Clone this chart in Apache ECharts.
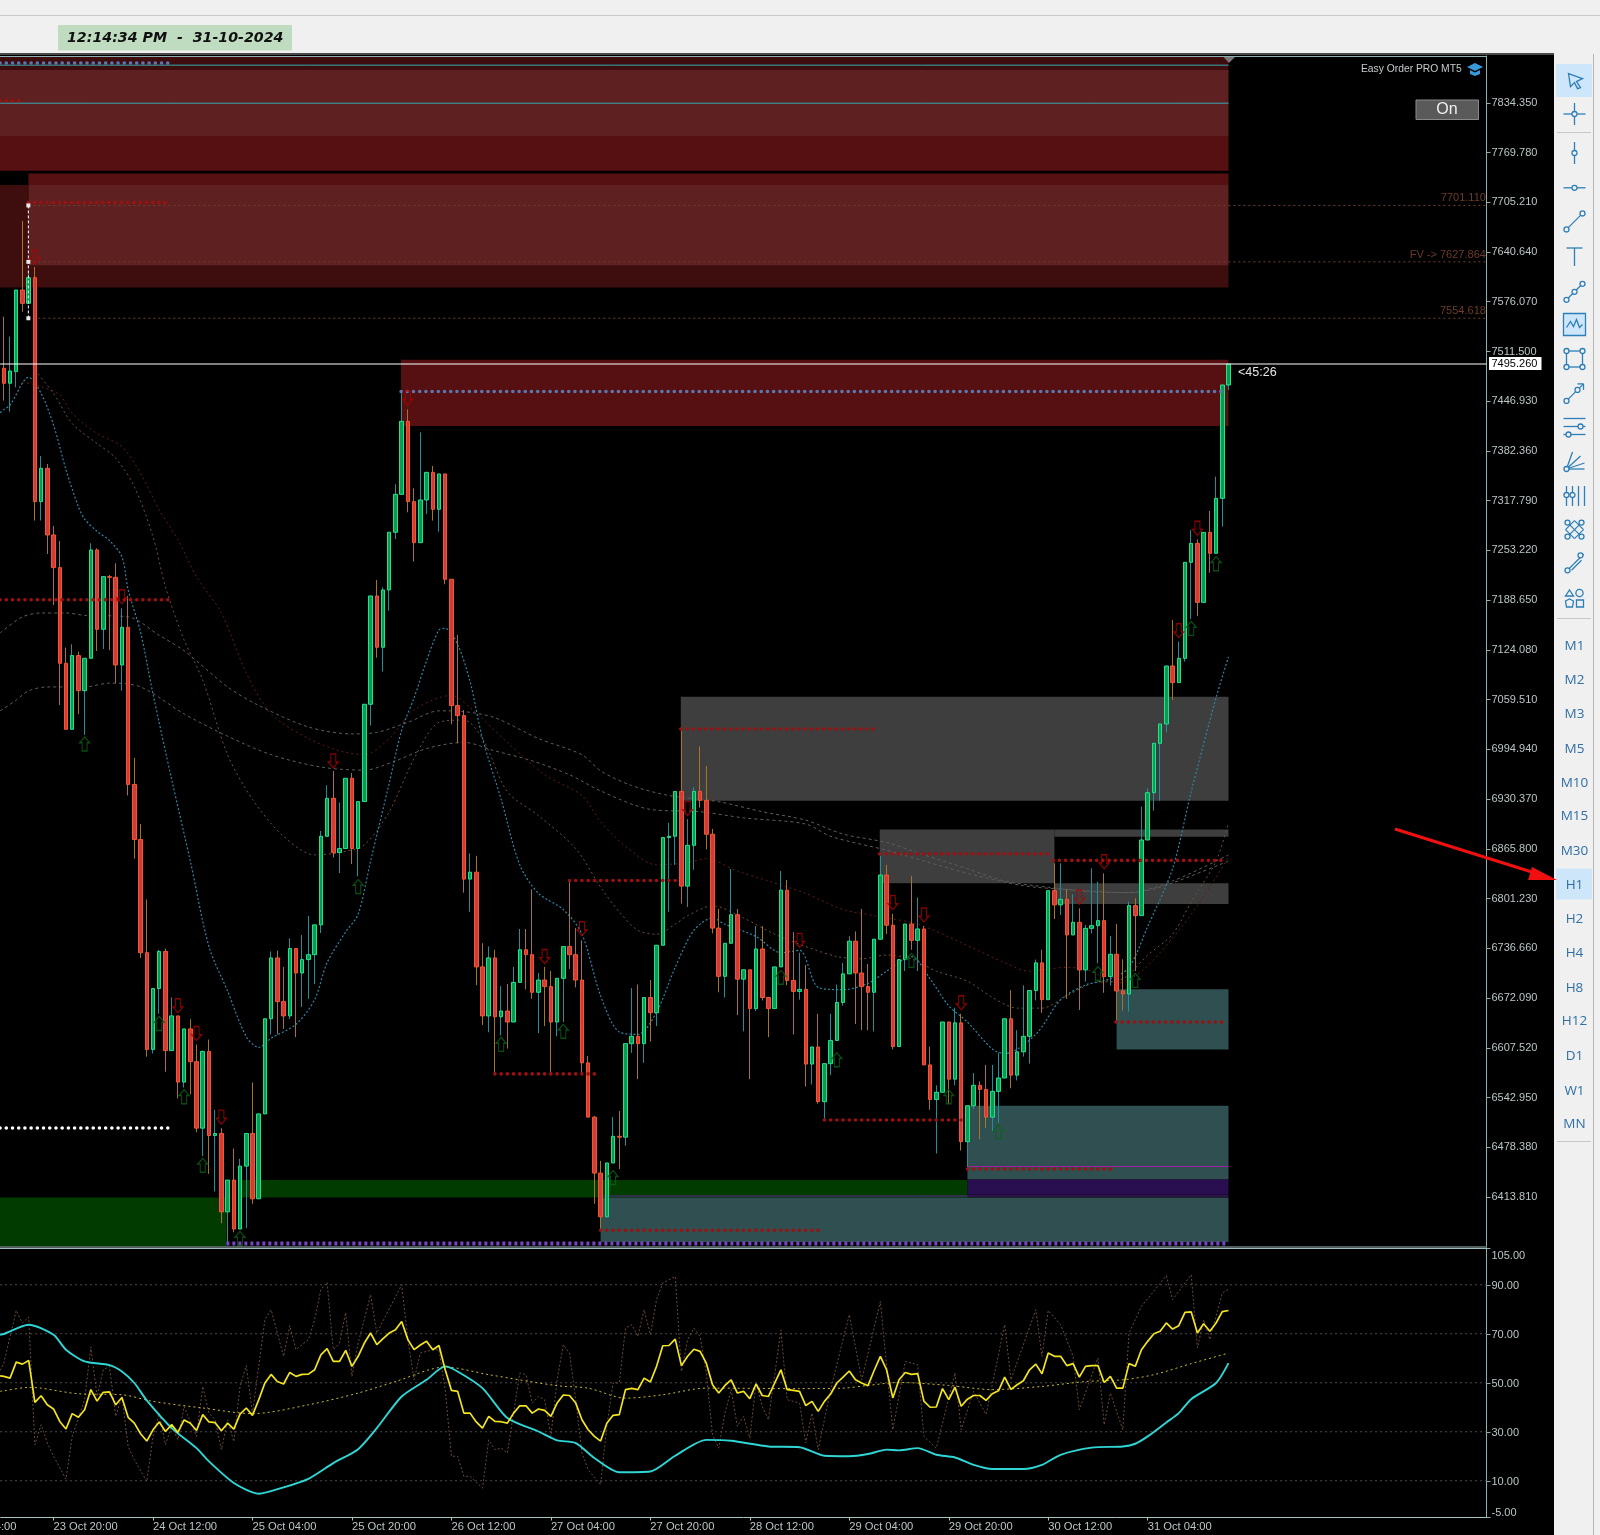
<!DOCTYPE html>
<html><head><meta charset="utf-8">
<style>html,body{margin:0;padding:0;background:#f0f0f0;overflow:hidden}#c{width:1600px;height:1535px}</style>
<script src="https://cdn.jsdelivr.net/npm/echarts@6/dist/echarts.min.js"></script></head>
<body><div id="c"></div>
<script>
// ---------- candles (H1 bars) ----------
const opens=[7489.7,7470.2,7485.3,7591.3,7574,7607.3,7316.6,7359.8,7273.3,7230.9,7106.7,7021,7116.7,7071.2,7113.2,7253.8,7150.8,7219.2,7218.3,7104.5,
7153.4,6949.4,6877.9,6731,6605.4,6684.4,6732.6,6603.9,6648.9,6563,6632,6589.5,6503.2,6602.8,6493.6,6496.3,6394.5,6435.8,6372.2,6453.9,
6496.3,6411.5,6521.7,6645.2,6724.2,6667.5,6648.9,6736.4,6704.6,6722,6728.4,6767.1,6882.1,6931.4,6860.9,6866.2,6957.4,6866.2,6927.2,7053.5,
7194.1,7127.5,7201.9,7276.8,7326,7420.8,7316.6,7263.3,7318.7,7354.6,7306.6,7352.5,7215.8,7051.8,7038.8,6826.5,6835.5,6712.5,6648.9,6724.2,
6647.8,6655.3,6641,6692.4,6734.8,6728.4,6679.6,6695.5,6687,6641,6697.7,6739,6728.4,6695.5,6588,6517.5,6444.9,6388.1,6458,6492.6,
6491.5,6612.9,6622.4,6612.9,6672.8,6653.1,6740.6,6880.5,6882.1,6940.4,6817.4,6870.4,6940.4,6928.7,6884.8,6762.9,6700.3,6743.2,6780.3,6696.6,
6708.8,6658.4,6735.8,6672.8,6658.4,6712.5,6812.1,6695,6680.7,6683.4,6586.4,6608.6,6537.6,6586.9,6617.1,6666.4,6703.5,6745.9,6704.6,6687,
6679.6,6748.5,6831.8,6766.6,6609.2,6722,6768.2,6747,6761.8,6585.3,6540.3,6549.8,6641,6566.8,6639.9,6485.7,6532.3,6558.8,6553.5,6517.5,
6550.9,6568.3,6645.2,6572,6602.3,6622.4,6681.8,6717.8,6670,6811.5,6793,6800.3,6754,6770.4,6708.6,6762.6,6766.1,6772.6,6699.9,6728.9,
6681.3,6677.4,6792.1,6779.1,6877.3,6938.7,7002.8,7027.9,7103.2,7081.6,7113.1,7237.8,7262.4,7185.8,7276.7,7249.5,7320.8,7468];
const closes=[7470.2,7486.2,7591.3,7574,7607.3,7316.6,7359.8,7273.3,7230.9,7106.7,7021,7116.7,7071.2,7113.2,7253.8,7150.8,7219.2,7218.3,7104.5,7153.4,
6949.4,6877.9,6731,6605.4,6684.4,6732.6,6603.9,6648.9,6563,6632,6589.5,6503.2,6602.8,6493.6,6496.3,6394.5,6435.8,6372.2,6453.9,6496.3,
6411.5,6521.7,6645.2,6724.2,6667.5,6648.9,6736.4,6704.6,6722,6728.4,6767.1,6882.1,6931.4,6860.9,6866.2,6957.4,6866.2,6927.2,7053.5,7194.1,
7127.5,7201.9,7276.8,7326,7420.8,7316.6,7263.3,7318.7,7354.6,7306.6,7352.5,7215.8,7051.8,7038.8,6826.5,6835.5,6712.5,6648.9,6724.2,6647.8,
6655.3,6641,6692.4,6734.8,6728.4,6679.6,6695.5,6687,6641,6697.7,6739,6728.4,6695.5,6588,6517.5,6444.9,6388.1,6458,6492.6,6491.5,
6612.9,6622.4,6612.9,6672.8,6653.1,6740.6,6880.5,6882.1,6940.4,6817.4,6870.4,6940.4,6928.7,6884.8,6762.9,6700.3,6743.2,6780.3,6696.6,6708.8,
6658.4,6735.8,6672.8,6658.4,6712.5,6812.1,6695,6680.7,6683.4,6586.4,6608.6,6537.6,6586.9,6617.1,6666.4,6703.5,6745.9,6704.6,6687,6679.6,
6748.5,6831.8,6766.6,6609.2,6722,6768.2,6747,6761.8,6585.3,6540.3,6549.8,6641,6566.8,6639.9,6485.7,6532.3,6558.8,6553.5,6517.5,6550.9,
6568.3,6645.2,6572,6602.3,6622.4,6681.8,6717.8,6670,6811.5,6793,6800.3,6754,6770.4,6708.6,6762.6,6766.1,6772.6,6699.9,6728.9,6681.3,
6677.4,6792.1,6779.1,6877.3,6938.7,7002.8,7027.9,7103.2,7081.6,7113.1,7237.8,7262.4,7185.8,7276.7,7249.5,7320.8,7468,7495.26];
const highs=[7556.7,7530.8,7591.3,7680.9,7613,7621.2,7375.9,7365.5,7285,7265.5,7127,7131.4,7121.9,7113.2,7262.5,7256,7219.2,7221.4,7236.5,7178.1,
7194,6983.9,6898,6800,6684.4,6734.8,6736.4,6672.8,6648.9,6632,6644.7,6611.8,6603.9,6618.2,6527,6503.2,6435.8,6476.7,6463.4,6496.3,
6562.5,6521.7,6645.2,6732.6,6733.7,6712.5,6749.6,6736.4,6753.8,6778.8,6767.1,6889,6948.4,6966.9,6926,6957.4,6964.3,6927.2,7053.5,7194.1,
7214.9,7205.4,7276.8,7339,7459.4,7436.4,7333.9,7406.6,7354.6,7362.9,7352.5,7352.5,7215.8,7143.5,7046,6859.8,6856.7,6743.2,6739,6734.8,
6687.6,6690.2,6712.5,6761.8,6761.8,6813.2,6704.6,6712.5,6707.2,6697.7,6739,6823.8,6762.9,6747,6597,6519,6460.8,6458,6517.5,6525.4,
6612.9,6685,6689.7,6672.8,6695.5,6740.6,6880.5,6899.6,6940.4,7018.8,6904.4,6945.7,6998.7,6973.3,6891.6,6787.8,6743.2,6839.7,6787.8,6708.8,
6708.8,6765.5,6765.5,6672.8,6712.5,6837,6825.4,6757.6,6731,6715,6608.6,6651.6,6586.9,6651.6,6689.7,6717.8,6752.3,6758.6,6787.8,6716.2,
6748.5,6856.7,6845,6781.4,6722,6768.2,6830.7,6802.6,6765.5,6609.2,6558.8,6641,6641,6659.5,6651.6,6532.3,6574.7,6564,6585.3,6585.3,
6601.2,6645.2,6682.3,6630.4,6688.7,6681.8,6722,6734.8,6811.5,6847,6847,6813.3,6806.8,6788.6,6767,6840.5,6823.2,6834,6752.7,6768.3,
6722.4,6797.2,6801.6,6920.6,6944.4,7002.8,7027.9,7103.2,7162.9,7134.8,7237.8,7279.7,7267.6,7276.7,7304.4,7349,7468,7495.26];
const lows=[7447.7,7433.4,7465,7563.2,7574,7292,7292,7248.6,7182.4,7052.6,7021,7021,7041,7013.7,7113.2,7122.7,7125.3,7124,7080.8,7071.2,
6935.1,6853,6724.2,6596,6600.1,6651.6,6576.3,6603.9,6541.8,6556,6547,6497.9,6467.1,6443.8,6421,6379.7,6352,6368,6372.2,6373.3,
6405,6411.5,6521.7,6625,6625,6632,6644.7,6621.3,6660.6,6671.2,6690.2,6756.5,6882.1,6854.5,6834.4,6866.2,6846,6830.2,6927.2,7025.8,
7114,7095.9,7175,7268,7326,7302.7,7238.7,7263.3,7300.6,7291.9,7277.6,7209.3,7027.5,7002.9,6809,6784,6688.7,6637.2,6627.7,6572,
6623.5,6606.5,6641,6692.4,6683.4,6671.2,6626.6,6635.7,6572,6622.4,6641,6709.9,6686,6574.7,6517.5,6405,6370.6,6388.1,6458,6450.2,
6480.4,6601,6566.8,6588,6615.5,6635.7,6740.6,6784,6845,6794.7,6790.4,6838.6,6919.2,6865.1,6756,6679.6,6672.8,6743.2,6650,6628.8,
6566.8,6655.3,6669,6621.3,6658.4,6712.5,6688.7,6625,6670,6557.2,6559.9,6535,6515.3,6572,6617.1,6662.2,6703.5,6638.3,6630.4,6630.4,
6628.8,6748.5,6755,6605.4,6609.2,6707.2,6734.8,6707.2,6585.3,6527,6470.3,6549.8,6535,6558.8,6474,6452.8,6528,6488.8,6503,6499.4,
6510,6568.3,6555,6565.2,6596,6586.9,6669,6653,6670,6774.7,6780,6670.9,6754,6656.6,6693.4,6756.1,6717.2,6679,6688.2,6642.8,
6655.8,6654.5,6707.2,6779.1,6877.3,6915.4,6928.4,7017,7059,7081.6,7108.8,7164.2,7168,7185.8,7224.4,7249.5,7284,7461.5];

// ---------- axes ----------
const priceTicks=[7834.35,7769.78,7705.21,7640.64,7576.07,7511.5,7446.93,7382.36,7317.79,7253.22,7188.65,7124.08,7059.51,6994.94,6930.37,6865.8,6801.23,6736.66,6672.09,6607.52,6542.95,6478.38,6413.81];
const oscTicks=[105,90,70,50,30,10,-5];
const oscLevels=[90,70,50,30,10];
const lastPrice=7495.26;
const fibLevels=[7701.11,7627.864,7554.618];
const fibLabels=['7701.110','FV -> 7627.864','7554.618'];
const barTimes=[];
{let d=23,h=12;for(let k=0;k<239;k++){barTimes.push(d+' Oct '+String(h).padStart(2,'0')+':00');h++;if(h===24){h=0;d++;}}}
const tfLabels=['M1','M2','M3','M5','M10','M15','M30','H1','H2','H4','H8','H12','D1','W1','MN'];

// ---------- zones: start bar, end bar, top price, bottom price, kind ----------
const zones=[
[-0.7,197,7894.4,7876.9,'dark'],[-0.7,197,7876.9,7791.2,'mid'],[-0.7,197,7791.2,7746,'red'],
[3.95,197,7742.4,7727.6,'red'],[3.95,197,7727.6,7622.9,'mid'],[3.95,197,7622.9,7594.6,'dark'],[-0.7,3.95,7727.6,7594.6,'dark'],
[63.9,197,7500.7,7414.9,'red'],
[108.9,197,7063.3,6928.2,'gray'],[140.9,169,6891,6821.1,'gray'],[169,197,6891,6881.6,'gray'],[169,197,6821.1,6794.2,'gray'],
[155,197,6532.4,6436.4,'teal'],[155,197,6436.4,6416.8,'purple'],[38,155,6435.9,6413.1,'green'],[-0.7,35.8,6413.1,6350.2,'green'],
[96,197,6413.1,6355.4,'teal'],[179,197,6683.4,6605.4,'teal']];

// ---------- dotted levels: start bar, end bar, price ----------
const redLevels=[[-0.6,3.1,7836.9],[3.95,26.6,7704.9],[-0.6,26.6,7189.1],[91,108.3,6824.8],[79,95.2,6573.6],[108.9,140.3,7021.4],[140.9,168.4,6859.3],[168.8,196.6,6850.8],[132,154.2,6513.8],[155,178.2,6450.2],[178.9,196.2,6641],[96,131.3,6370.7]];
const blueLevels=[[-0.6,26.6,7886],[63.9,196.5,7459.6]];
const whiteLevels=[[-0.6,26.6,6503.4]];
const purpleLevels=[[35.8,197,6353.4]];
const tealLines=[7883.2,7833.8];
const magentaLine=[155,197,6453.4];
const violetLine=[96,197,6415.1];

// ---------- signal arrows: bar, price ----------
const downArrows=[[5,7634],[19,7193],[28,6662],[31,6626],[35,6517.5],[53,6980],[65,7451],[87,6726],[93,6762],[110,6918],[128,6747],[143,6796],[148,6780],[154,6666],[173,6803],[177,6849],[189,7149],[192,7282]];
const upArrows=[[13,7002],[25,6639],[29,6544],[32,6455],[38,6360],[57,6817],[80,6612],[90,6629],[98,6439],[125,6699],[134,6592],[146,6721],[152,6544],[160,6498],[176,6704],[182,6695],[191,7152],[195,7236]];

// ---------- moving averages: bar, price ----------
const fastMA=[[-0.6,7432],[0,7436],[1,7442],[4,7478],[6,7457],[8,7416],[10,7358],[12,7310],[13,7294],[15,7278],[17,7266],[19,7245],[20,7202],[22,7147],[24,7067],[27,6956],[30,6850],[33,6739],[36,6681],[39,6622],[41,6608],[43,6620],[47,6638],[50,6670],[52,6718],[55,6758],[57,6781],[59,6850],[62,6951],[64,7020],[66,7062],[68,7110],[70,7150],[71,7152],[73,7131],[75,7083],[77,7009],[80,6930],[83,6845],[86,6808],[90,6787],[93,6755],[96,6675],[99,6628],[102,6625],[105,6654],[108,6712],[111,6760],[114,6776],[116,6768],[121,6752],[125,6731],[128,6734],[131,6686],[135,6683],[139,6691],[142,6707],[146,6726],[149,6697],[152,6662],[155,6641],[159,6606],[161,6600],[166,6625],[170,6670],[174,6689],[178,6697],[181,6712],[184,6765],[188,6840],[191,6940],[195,7062],[197,7115]];
const midMA=[[5,7487],[8,7457],[11,7418],[15,7392],[18,7373],[21,7336],[24,7271],[26,7206],[29,7137],[32,7085],[36,6988],[40,6930],[45,6882],[50,6858],[54,6861],[58,6871],[62,6914],[66,6983],[70,7030],[74,7033],[77,7009],[81,6940],[86,6909],[92,6866],[96,6816],[99,6784],[102,6760],[105,6755],[108,6768],[110,6779],[114,6792],[119,6776],[124,6755],[129,6739],[134,6726],[138,6723],[142,6728],[146,6723],[150,6707],[155,6694],[159,6673],[163,6659],[167,6659],[171,6675],[175,6691],[180,6697],[184,6728],[188,6755],[191,6797],[195,6850],[197,6900]];
const slowMA=[[3,7472],[6,7466],[9,7455],[11,7431],[15,7405],[19,7388],[22,7353],[25,7306],[28,7267],[31,7219],[35,7172],[39,7094],[43,7041],[49,7009],[54,6993],[58,6988],[62,7009],[66,7046],[72,7065],[75,7049],[81,7004],[87,6962],[93,6935],[96,6901],[100,6869],[105,6845],[110,6848],[113,6853],[118,6837],[123,6824],[129,6808],[135,6787],[140,6779],[147,6768],[154,6744],[161,6718],[165,6707],[171,6712],[175,6707],[179,6691],[183,6707],[188,6750],[192,6792],[197,6855]];
const grayUpperMA=[[-0.6,7146],[0,7150],[3,7167],[6,7172],[10,7172],[13,7169],[20,7167],[25,7143],[29,7123],[36,7076],[41,7052],[49,7024],[56,7015],[60,7017],[65,7030],[70,7045],[74,7044],[79,7036],[86,7009],[93,6988],[96,6967],[101,6948],[107,6935],[115,6927],[122,6914],[129,6903],[135,6885],[142,6874],[148,6858],[155,6840],[161,6824],[168,6816],[175,6810],[181,6809],[188,6824],[197,6858]];
const grayLowerMA=[[-0.6,7045],[0,7048],[2,7059],[4,7071],[7,7076],[13,7076],[17,7081],[22,7076],[29,7041],[36,7012],[43,6988],[51,6972],[58,6968],[63,6980],[68,6996],[74,7004],[79,6993],[85,6980],[91,6962],[96,6941],[104,6917],[112,6914],[119,6906],[129,6898],[133,6882],[142,6864],[148,6850],[156,6832],[164,6818],[171,6813],[181,6809],[186,6816],[197,6850]];

// ---------- oscillator pane ----------
const yellowOsc=[52.6,51.9,58.4,57.6,59.1,42,44.7,41,39.3,34.2,31.1,37.4,35.9,39,47.2,42.5,46.1,46.3,41,44,
35.9,33.5,29.2,26.2,30.8,34,30.1,32.9,29.7,34.8,33.5,30.5,37,34,33.7,30.4,33.5,31.1,37.2,39.7,
36.7,43,49.9,53.4,50.5,49.5,54.2,52.6,53.4,53.5,55.3,61.4,63.9,58.7,58.7,63.2,56.7,60.8,66.2,70.3,
65.6,68,70.3,71.6,75,67.6,63.5,65.4,66.9,63.5,65.2,55.3,46.9,46.5,37.6,37.6,34,31.5,36.3,34.2,
34.1,33.5,37.6,40.6,40.6,37.6,39.3,38.7,36.3,41.7,45,44.8,41.7,34.9,30.8,28.1,26.2,33.5,36.7,37,
47.2,47.7,47.2,51.9,50.3,56.7,65.1,65.2,67.8,57,60.8,63.7,62.8,58,49.2,45.8,48.9,51.2,45.8,46.5,
43.5,49.5,44.8,44.4,49.9,55.3,47.2,46.9,46.5,40.7,42.4,38.3,42.4,45.4,49.9,52.3,54.8,51.2,49.9,48.8,
55,60.8,55.3,43.8,51.2,54.2,53.4,53.7,42.5,40,40.1,47.6,43.1,48.2,40.4,43.3,44.8,44.8,42.8,45.5,
46.7,52.3,47.3,49.2,50.8,55.3,57.6,53.7,62.1,60.8,60.8,57,57.8,52.3,56.7,57,57,50.1,52.6,47.8,
47.8,57.8,56.7,63.5,66.9,70,71,74.4,71.9,73.3,78.7,78.9,70.3,74.1,71,74.4,79,79.5];
const yellowLead=[-0.6,52.8];
const cyanOsc=[[-0.6,69.6],[0,69.9],[4,73.7],[8,69.6],[10,63.5],[13,58.7],[17,57.2],[19,54.6],[21,49.9],[23,42.8],[27,31.5],[31,23.3],[33,17.9],[37,9.1],[41,4.7],[45,7.3],[49,10.8],[53,17.2],[57,22.9],[60,31.5],[64,44.4],[68,51.2],[71,56.7],[73,54.6],[77,47.8],[81,35.6],[86,30.1],[89,26.5],[92,25.4],[95,19.3],[99,13.5],[104,13.8],[108,20.2],[113,26.7],[117,26.3],[123,24],[128,23.7],[132,20.2],[136,20],[139,20.9],[142,22.7],[144,22.4],[147,23.3],[150,20.6],[153,19.5],[156,16.5],[159,14.8],[164,14.8],[167,16.5],[170,20.6],[175,23.5],[180,24],[182,25.1],[184,28.1],[187,33.8],[189,37.6],[191,43.3],[195,49.9],[197,58]];
const signalOsc=[[-0.6,46.5],[0,46.7],[4,48.1],[6,47.8],[12,45.5],[19,45.1],[24,42.4],[32,39.7],[40,37.4],[49,41],[57,45.8],[63,50.5],[71,56.4],[78,53.3],[89,48.8],[94,47.8],[100,43.7],[106,45.1],[113,47.8],[128,47.6],[135,47.8],[139,48.9],[144,50.1],[152,48.9],[159,47.2],[167,48.5],[174,50.5],[180,51.2],[185,53.3],[191,57.8],[197,62.1]];
const brownOsc=[[-0.6,55],[0,58],[2,79.5],[3,74.4],[4,76.8],[5,24.7],[6,32.9],[7,25.4],[8,20],[10,10.7],[11,28.1],[13,43.1],[14,64.6],[15,44.4],[16,55.3],[17,56.7],[18,36.3],[19,44.4],[20,24],[21,18.6],[23,9.7],[24,28.1],[25,37.6],[26,24.7],[27,32.2],[28,26.7],[29,40.3],[31,28.1],[32,48.5],[33,37.6],[34,34.9],[35,22.7],[36,34.9],[37,26],[38,48.5],[39,57],[40,37.6],[42,75.7],[43,79.8],[45,60.8],[46,73.3],[47,63.5],[49,67.6],[50,75.7],[51,88],[52,91],[53,63.5],[54,66.2],[55,78.7],[56,52.6],[57,66.2],[59,85.9],[60,70.3],[64,90],[65,67.6],[66,51.2],[67,62.1],[69,63.5],[70,63.5],[71,47.2],[72,20],[73,20],[74,11.8],[75,11.8],[77,7],[78,26.7],[79,22.7],[80,23.3],[81,21.3],[83,54],[84,53.3],[85,41.7],[86,44.4],[87,43.1],[88,28.1],[89,51.2],[90,65.5],[91,62.1],[92,43.1],[93,21.3],[94,14.5],[96,8.4],[97,32.2],[98,49.9],[99,49.9],[100,72.3],[101,73.7],[102,68.9],[103,79.8],[104,69.6],[105,83.9],[106,90.7],[108,93.4],[109,54.6],[110,67.6],[111,72.3],[112,68.9],[113,54],[114,28.8],[115,23.3],[116,37.6],[117,47.2],[118,32.2],[119,36.3],[120,27.4],[121,49.9],[122,40.3],[123,34.9],[125,71.6],[126,43.1],[128,41.7],[129,25.4],[130,37.6],[131,22.7],[133,47.2],[136,77.8],[138,51.2],[141,83.2],[143,30.8],[145,58.7],[147,57.4],[148,28.1],[150,23.3],[153,54],[154,30.8],[156,46.5],[158,37],[161,73.7],[162,51.2],[166,79.8],[167,60.8],[168,79.5],[170,73.7],[172,60.8],[173,39],[176,60.1],[177,32.9],[178,45.8],[180,30.8],[181,70.3],[183,81.2],[187,93.7],[188,83.9],[191,94.1],[192,64.2],[193,75.7],[194,67.6],[196,86.6],[197,88.2]];

// ---------- styling and assembly ----------
const zoneColor={dark:'#3e0e0f',mid:'#5f2022',red:'#571012',gray:'#3e3e3e',teal:'#2f4f50',purple:'#2a0f50',green:'#023b00'};
const X_END=238.5, AXIS='#8fb0b0', TICKTXT='#b9c6c6', F='"Liberation Sans",sans-serif';
const segs=(lv)=>{const o=[];lv.forEach(l=>{o.push([l[0],l[2]],[l[1],l[2]],[null,null]);});return o;};
const main={xAxisIndex:2,yAxisIndex:0}, low={xAxisIndex:3,yAxisIndex:1};
const ln=(name,data,color,width,type,z,extra,axes)=>Object.assign({name,type:'line',data,showSymbol:false,symbol:'none',silent:true,animation:false,z,
  connectNulls:false,lineStyle:{color,width,type}},axes||main,extra||{});
const dots=(name,lv,color,size,z)=>ln(name,segs(lv),color,size,[0.01,6.2],z,{lineStyle:{color,width:size,type:[0.01,6.2],cap:'round'}});

const series=[
 {name:'zones',type:'custom',xAxisIndex:2,yAxisIndex:0,z:1,silent:true,animation:false,clip:false,data:zones.map(z=>z.slice(0,4)),
  encode:{x:[0,1],y:[2,3]},
  renderItem:(p,api)=>{const a=api.coord([api.value(0),api.value(2)]),b=api.coord([api.value(1),api.value(3)]);
    return {type:'rect',shape:{x:a[0],y:a[1],width:b[0]-a[0],height:b[1]-a[1]},style:{fill:zoneColor[zones[p.dataIndex][4]]}};}},
 ln('grayUpperMA',grayUpperMA,'#5e5e5e',1,[3,3],2,{smooth:0.3}),
 ln('grayLowerMA',grayLowerMA,'#5e5e5e',1,[3,3],2,{smooth:0.3}),
 ln('slowMA',slowMA,'#601c15',1,[2,3],2,{smooth:0.3}),
 ln('midMA',midMA,'#74503c',1,[2,3],2,{smooth:0.3}),
 ln('fastMA',fastMA,'#2e86a6',1.2,[2,2],2,{smooth:0.3}),
 ln('teal lines',segs(tealLines.map(p=>[-0.6,197,p])),'#35aab5',1,'solid',3),
 ln('magenta',segs([magentaLine]),'#a020a0',1,'solid',3),
 ln('violet',segs([violetLine]),'#5a2a90',1,'solid',3),
 ln('fib',segs(fibLevels.map((p,k)=>[3.95,X_END,p])),'#70402c',1,[2,3],3),
 {name:'fibLabels',type:'scatter',xAxisIndex:2,yAxisIndex:0,z:3,silent:true,animation:false,symbolSize:0,
  data:fibLevels.map((p,k)=>({value:[X_END-0.1,p],label:{formatter:fibLabels[k]}})),
  label:{show:true,position:'left',offset:[0,-7],color:'#874a35',fontSize:11,fontFamily:F,distance:0}},
 {name:'wicks',type:'candlestick',xAxisIndex:0,yAxisIndex:0,z:4,barWidth:1,silent:true,animation:false,clip:true,
  data:opens.map((o,i)=>[o,closes[i],lows[i],highs[i]]),
  itemStyle:{color:'#1f8f98',color0:'#a87428',borderColor:'#1f8f98',borderColor0:'#a87428',borderWidth:1}},
 {name:'bodies',type:'candlestick',xAxisIndex:0,yAxisIndex:0,z:5,barWidth:4,silent:true,animation:false,
  data:opens.map((o,i)=>[o,closes[i],Math.min(o,closes[i]),Math.max(o,closes[i])]),
  itemStyle:{color:'#0d9a50',color0:'#cf3d3a',borderColor:'#1ce58f',borderColor0:'#f8552c',borderWidth:1}},
 dots('redLevels',redLevels,'#a01010',3.6,6),
 dots('blueLevels',blueLevels,'#5a78b0',3.6,6),
 dots('whiteLevels',whiteLevels,'#ffffff',3.6,6),
 ln('purpleLevels',segs(purpleLevels),'#7a45c8',4,[3,3],6),
 {name:'downArrows',type:'scatter',xAxisIndex:2,yAxisIndex:0,z:7,silent:true,animation:false,data:downArrows,
  symbol:'path://M4 0L8 5L6 5L6 12L2 12L2 5L0 5Z',symbolSize:[10,14],symbolRotate:180,
  itemStyle:{color:'rgba(0,0,0,0)',borderColor:'#b00000',borderWidth:1.2}},
 {name:'upArrows',type:'scatter',xAxisIndex:2,yAxisIndex:0,z:7,silent:true,animation:false,data:upArrows,
  symbol:'path://M4 0L8 5L6 5L6 12L2 12L2 5L0 5Z',symbolSize:[10,14],
  itemStyle:{color:'rgba(0,0,0,0)',borderColor:'#0b6414',borderWidth:1.2}},
 ln('lastPrice',segs([[-0.6,X_END,lastPrice]]),'#ffffff',1.2,'solid',8),
 ln('fibAnchor',fibLevels.map(p=>[3.95,p]),'#ffffff',1,[3,2],8,{showSymbol:true,symbol:'rect',symbolSize:4,itemStyle:{color:'#e8e8e8'}}),
 ln('oscLevels',segs(oscLevels.map(v=>[-0.6,X_END,v])),'#4d4d4d',1,[2,3],2,null,low),
 ln('brownOsc',brownOsc,'#6b4a3a',1,[2,2],3,null,low),
 ln('signalOsc',signalOsc,'#c9bb2e',1,[2,3],4,{smooth:0.3},low),
 ln('cyanOsc',cyanOsc,'#2fd6d6',1.9,'solid',5,{smooth:0.25},low),
 ln('yellowOsc',[yellowLead].concat(yellowOsc.map((v,i)=>[i,v])),'#f2e41f',1.7,'solid',6,null,low)
];

// ---------- chrome ----------
const B='#2d7fb8',BG='#f0f0f0',cx=1574.5;
const L=(x1,y1,x2,y2,w)=>({type:'line',shape:{x1,y1,x2,y2},style:{stroke:B,lineWidth:w||1.3,fill:null}});
const C=(x,y,r)=>({type:'circle',shape:{cx:x,cy:y,r:r||2.5},style:{stroke:B,fill:BG,lineWidth:1.3}});
const P=(pts,fill)=>({type:'polygon',shape:{points:pts},style:{stroke:B,fill:fill||'none',lineWidth:1.3}});
const icon=(y,ch)=>({type:'group',x:cx,y,children:ch.map(c=>Object.assign(c,{z:50}))});
const rect=(x,y,w,h,fill,z,extra)=>Object.assign({type:'rect',shape:{x,y,width:w,height:h},style:Object.assign({fill},extra||{}),z:z||-1,silent:true});
const txt=(x,y,text,font,fill,align,z)=>({type:'text',x,y,z:z||60,silent:true,style:{text,font,fill,align:align||'left',verticalAlign:'middle'}});
const tfYs=[645,679,713,748,782,815,850,884,918,952,987,1020,1055,1090,1123];
const graphic=[
 rect(0,0,1600,54,BG),
 rect(0,15,1600,1,'#cacaca'),
 rect(0,54,1554,1481,'#000000'),
 rect(0,53,1554,2,'#4a4a4a',2),
 rect(0,56,1487,1,AXIS,40),
 rect(0,1246.5,1487,1,'#9fbcbc',40),
 rect(0,1248,1487,1,'#9fbcbc',40),
 rect(1554,54,46,1481,BG),
 rect(1593,54,1,1481,'#b5b5b5',2),
 rect(58,25,234,25.5,'#bfdcc0',2),
 txt(67,38.5,'12:14:34 PM  -  31-10-2024','italic bold 14.2px "DejaVu Sans",sans-serif','#101010'),
 {type:'polygon',z:40,silent:true,shape:{points:[[1223.5,57],[1235,57],[1229,63]]},style:{fill:'#777777'}},
 txt(1361,69,'Easy Order PRO MT5','10.3px '+F,'#c4cccc'),
 {type:'group',x:1475,y:69,children:[
   {type:'polygon',z:60,silent:true,shape:{points:[[-8,-2],[0,-6],[8,-2],[0,2]]},style:{fill:'#3a9ad9'}},
   {type:'polygon',z:60,silent:true,shape:{points:[[-5,1],[0,3.5],[5,1],[5,5],[0,7],[-5,5]]},style:{fill:'#3a9ad9'}}]},
 rect(1416,100,62.5,19.5,'#5a5a5a',55,{stroke:'#8a8a8a',lineWidth:1}),
 txt(1447,110,'On','16px '+F,'#f0f0f0','center',60),
 txt(1238,372.5,'<45:26','12.5px '+F,'#e4e4e4'),
 rect(1489,357,52.5,13,'#ffffff',55),
 txt(1491.5,364,lastPrice.toFixed(3),'11px '+F,'#000000'),
 txt(-47.5,1527,'23 Oct 04:00','11.2px '+F,TICKTXT),
 // red annotation arrow
 {type:'line',z:70,silent:true,shape:{x1:1395,y1:829,x2:1535,y2:873},style:{stroke:'#f01010',lineWidth:3}},
 {type:'polygon',z:70,silent:true,shape:{points:[[1557,880],[1532,867],[1528,880]]},style:{fill:'#f01010'}},
 // toolbar highlights
 rect(1556,64,36,33,'#cde6fa',3),
 rect(1556,868.5,36,31,'#cde6fa',3),
 rect(1557,132,34,1,'#c8c8c8',3),
 rect(1557,618,34,1,'#c8c8c8',3),
 rect(1557,1141,34,1,'#c8c8c8',3),
 // toolbar icons
 icon(80.6,[P([[-6,-7],[8,-2],[2,1],[6,7],[3,8],[0,2],[-4,6]])]),
 icon(114,[L(-11,0,11,0),L(0,-11,0,11),C(0,0,2.5)]),
 icon(153,[L(0,-11,0,11),C(0,0,2.5)]),
 icon(187.8,[L(-11,0,11,0),C(0,0,2.5)]),
 icon(221.4,[L(-8,8,8,-8),C(-8,8),C(8,-8)]),
 icon(256,[L(-8,-8,8,-8),L(0,-8,0,10)]),
 icon(291.8,[L(-8,8,8,-8),C(-8,8),C(0,0),C(8,-8)]),
 icon(324.5,[rect(-11,-11,22,22,'#cde6fa',50,{stroke:B,lineWidth:1.3}),{type:'polyline',shape:{points:[[-8,3],[-4,-3],[-1,2],[2,-5],[5,3],[8,0]]},style:{stroke:B,fill:'none',lineWidth:1.3}}]),
 icon(359,[L(-8,-8,8,-8),L(8,-8,8,8),L(8,8,-8,8),L(-8,8,-8,-8),C(-8,-8),C(8,-8),C(8,8),C(-8,8)]),
 icon(392.9,[L(-8,8,9,-9),L(9,-9,3,-9),L(9,-9,9,-3),C(-8,8),C(3,-3)]),
 icon(426.5,[L(-11,-8,11,-8),L(-11,0,11,0),L(-11,8,11,8),C(6,0),C(-6,8)]),
 icon(461,[L(-8,8,-2,-9),L(-8,8,6,-5),L(-8,8,10,2),L(-8,8,10,8),C(-8,8)]),
 icon(496,[L(-8,-10,-8,10),L(-2,-10,-2,10),L(4,-10,4,10),L(10,-10,10,10),C(-8,-1),C(-2,-1)]),
 icon(529.6,[L(-9,-9,9,9),L(-9,9,9,-9),L(-9,0,0,-9),L(0,-9,9,0),L(9,0,0,9),L(0,9,-9,0),C(-7,-7),C(7,-7),C(7,7),C(-7,7)]),
 icon(563.3,[L(-9,9,-1,1),L(-1,1,9,-9),L(-3,7,7,-3),C(-7,7),C(6,-8)]),
 icon(598,[P([[-5,-8],[-1,-2],[-9,-2]]),C(5,-5,3.6),P([[-9,3],[-5,1],[-1,3],[-2,9],[-8,9]]),rect(2,2,7,7,BG,50,{stroke:B,lineWidth:1.3})])
].concat(tfLabels.map((t,k)=>txt(cx,tfYs[k]+0.8,t,'13.5px "Open Sans",sans-serif','#2f6fa5','center',60)));

const tickRich={color:TICKTXT,fontSize:11,fontFamily:F};
const option={
 animation:false,backgroundColor:'transparent',
 grid:[{left:0.7,right:113.5,top:56,height:1190,containLabel:false},{left:0.7,right:113.5,top:1248,height:269.5,containLabel:false}],
 xAxis:[
  {type:'category',gridIndex:0,data:barTimes,boundaryGap:true,axisLine:{show:false,onZero:false},axisTick:{show:false},axisLabel:{show:false},splitLine:{show:false}},
  {type:'category',gridIndex:1,data:barTimes,boundaryGap:true,axisLine:{show:true,onZero:false,lineStyle:{color:'#a9c2c2',width:1}},
   axisTick:{show:true,alignWithLabel:true,length:3,interval:(i)=>(i-8)%16===0&&i>=8&&i<=184,lineStyle:{color:'#a9c2c2'}},
   axisLabel:{show:true,align:'left',margin:4,color:TICKTXT,fontSize:11.2,fontFamily:F,interval:(i)=>(i-8)%16===0&&i>=8&&i<=184},splitLine:{show:false}},
  {type:'value',gridIndex:0,min:-0.5,max:X_END,show:false,axisLine:{onZero:false},splitLine:{show:false}},
  {type:'value',gridIndex:1,min:-0.5,max:X_END,show:false,axisLine:{onZero:false},splitLine:{show:false}}
 ],
 yAxis:[
  {type:'value',gridIndex:0,position:'right',min:6350.2,max:7895.1,scale:true,splitLine:{show:false},
   axisLine:{show:true,onZero:false,lineStyle:{color:AXIS,width:1}},axisTick:{show:true,length:4,customValues:priceTicks,lineStyle:{color:AXIS}},
   axisLabel:{show:true,customValues:priceTicks,color:TICKTXT,fontSize:11,fontFamily:F,margin:5,padding:[2,0,0,0],formatter:(v)=>Number(v).toFixed(3)}},
  {type:'value',gridIndex:1,position:'right',min:-5,max:105,splitLine:{show:false},
   axisLine:{show:true,onZero:false,lineStyle:{color:AXIS,width:1}},axisTick:{show:true,length:4,customValues:oscTicks,lineStyle:{color:AXIS}},
   axisLabel:{show:true,customValues:oscTicks,color:TICKTXT,fontSize:11,fontFamily:F,margin:5,padding:[2,0,0,0],
    rich:{top:Object.assign({padding:[14,0,0,0]},tickRich),bot:Object.assign({padding:[0,0,12,0]},tickRich)},
    formatter:(v)=>{const s=Number(v).toFixed(2);return v===105?'{top|'+s+'}':(v===-5?'{bot|'+s+'}':s);}}}
 ],
 series,graphic
};
const chart=echarts.init(document.getElementById('c'),null,{renderer:'canvas',width:1600,height:1535});
chart.setOption(option);
</script></body></html>
